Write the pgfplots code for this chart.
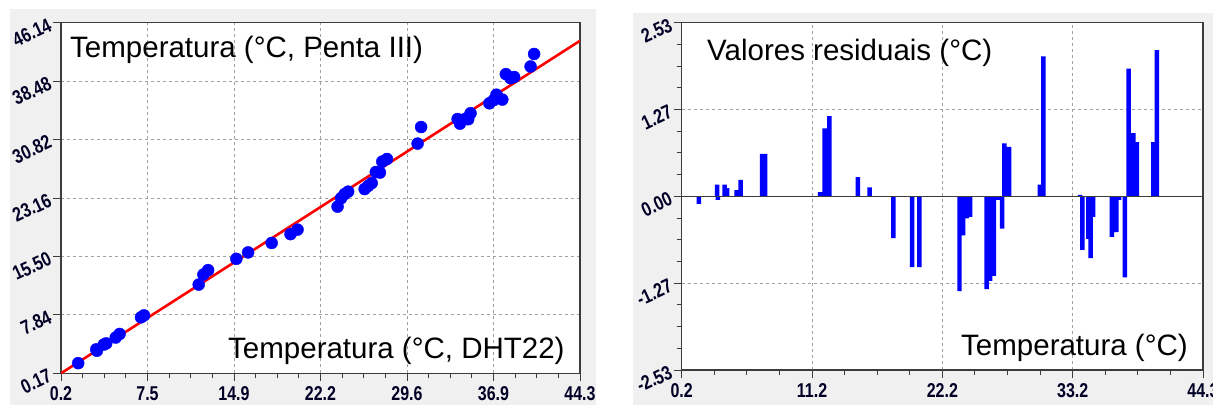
\documentclass[border=0pt]{standalone}
\usepackage{fontspec}
\setmainfont{Liberation Sans}
\newfontfamily\tickfont[FakeStretch=0.8]{Liberation Sans}
\usepackage{pgfplots}
\usepackage{pgfplotstable}
\pgfplotsset{compat=1.18}
\definecolor{panelgray}{HTML}{F0F0F0}
\definecolor{axisgray}{HTML}{3C3C3C}
\definecolor{gridgray}{HTML}{A0A0A0}

\pgfplotstableread{
x y
1.66 1.50
3.20 3.31
3.25 3.13
3.84 3.94
4.04 4.09
4.85 4.86
5.18 5.33
7.00 7.51
7.25 7.76
11.90 11.80
12.30 13.12
12.70 13.70
15.10 15.18
16.10 16.02
18.10 17.26
19.70 18.42
20.30 19.01
23.70 22.02
24.00 23.13
24.30 23.67
24.60 23.99
26.00 24.33
26.30 24.74
26.60 25.11
26.95 26.56
27.30 26.49
27.50 27.93
27.90 28.27
30.50 30.29
30.80 32.46
33.90 33.51
34.10 32.90
34.60 33.56
34.80 33.48
35.00 34.27
36.60 35.57
36.97 36.00
37.20 36.70
37.70 36.06
38.00 39.40
38.40 38.86
38.70 39.02
40.10 40.40
40.40 42.04
}\scatterdata

\pgfplotstableread{
x r
1.66 -0.11
3.20 0.17
3.25 -0.05
3.84 0.17
4.04 0.12
4.85 0.09
5.18 0.24
7.00 0.62
7.25 0.62
11.90 0.06
12.30 0.99
12.70 1.17
15.10 0.28
16.10 0.13
18.10 -0.61
19.70 -1.03
20.30 -1.03
23.70 -1.38
24.00 -0.57
24.30 -0.32
24.60 -0.30
26.00 -1.35
26.30 -1.23
26.60 -1.16
26.95 -0.05
27.30 -0.47
27.50 0.77
27.90 0.72
30.50 0.17
30.80 2.04
33.90 0.02
34.10 -0.78
34.60 -0.62
34.80 -0.90
35.00 -0.30
36.60 -0.59
36.97 -0.52
37.20 -0.05
37.70 -1.18
38.00 1.86
38.40 0.92
38.70 0.79
40.10 0.79
40.40 2.13
}\residdata

\pgfplotsset{panel/.style={
  scale only axis,
  axis background/.style={fill=white},
  axis line style={axisgray, line width=1.5pt},
  tick align=outside,
  tick pos=left,
  major tick length=8pt,
  minor tick length=5pt,
  every tick/.append style={axisgray, line width=1pt},
  grid=major,
  major grid style={gridgray, dash pattern=on 3pt off 3pt, line width=0.9pt},
  minor x tick num=3, minor y tick num=3,
  tick label style={font=\tickfont\bfseries\fontsize{20}{20}\selectfont, text=black!85!blue},
  y tick label style={rotate=25, anchor=east, xshift=-1pt, inner sep=2pt},
  x tick label style={anchor=north, yshift=-3pt, inner sep=2pt},
}}

\begin{document}
\begin{tikzpicture}[x=1pt,y=1pt]
\useasboundingbox (0,0) rectangle (1213,405);
\fill[white] (0,0) rectangle (1213,405);
\fill[panelgray] (10,0) rectangle (596,396);
\fill[panelgray] (633,0) rectangle (1213,392);

\begin{axis}[panel,
  at={(61pt,31.7pt)}, anchor=south west,
  width=519pt, height=350.6pt,
  xmin=0.2, xmax=44.3, ymin=0.17, ymax=46.14,
  xtick={0.2,7.55,14.9,22.25,29.6,36.95,44.3},
  xticklabels={0.2,7.5,14.9,22.2,29.6,36.9,44.3},
  ytick={0.17,7.832,15.493,23.155,30.817,38.478,46.14},
  yticklabels={0.17,7.84,15.50,23.16,30.82,38.48,46.14},
]
\addplot[only marks, mark=*, mark size=6pt, mark options={draw=blue, fill=blue}] table[x=x,y=y] {\scatterdata};
\addplot[red, line width=2.6pt] coordinates {(0.2,0.17) (44.3,43.77)};
\end{axis}

\begin{axis}[panel,
  at={(681.7pt,35pt)}, anchor=south west,
  width=521.3pt, height=347.3pt,
  xmin=0.2, xmax=44.3, ymin=-2.53, ymax=2.53,
  xtick={0.2,11.225,22.25,33.275,44.3},
  xticklabels={0.2,11.2,22.2,33.2,44.3},
  ytick={-2.53,-1.265,0,1.265,2.53},
  yticklabels={-2.53,-1.27,0.00,1.27,2.53},
]
\addplot[ybar, bar width=0.38, fill=blue, draw=none] table[x=x,y=r] {\residdata};
\addplot[axisgray, line width=1.5pt] coordinates {(0.2,0) (44.3,0)};
\end{axis}

\node[anchor=base west, inner sep=0, font=\fontsize{29.5}{29.5}\selectfont] at (70,347) {Temperatura (°C, Penta III)};
\node[anchor=base west, inner sep=0, font=\fontsize{29.5}{29.5}\selectfont] at (228,47) {Temperatura (°C, DHT22)};
\node[anchor=base west, inner sep=0, font=\fontsize{29.5}{29.5}\selectfont] at (707,344) {Valores residuais (°C)};
\node[anchor=base west, inner sep=0, font=\fontsize{29.5}{29.5}\selectfont] at (961,50) {Temperatura (°C)};
\end{tikzpicture}
\end{document}
